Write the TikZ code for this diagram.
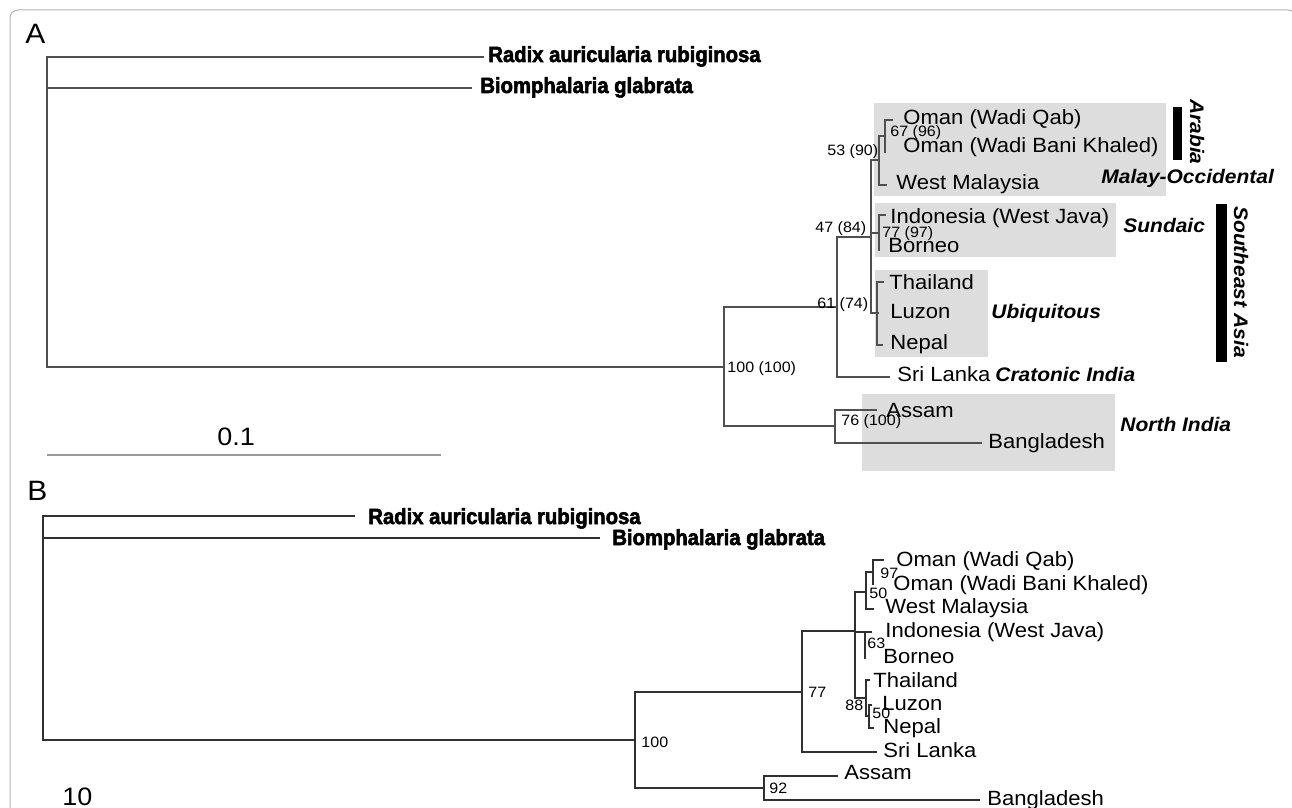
\documentclass[tikz,border=0pt]{standalone}
\usepackage{fontspec}
\setmainfont{Liberation Sans}[FakeStretch=1.07]
\newfontfamily\spfont{Liberation Sans}[FakeStretch=0.92,BoldFeatures={FakeBold=2.5}]
\usetikzlibrary{positioning}
\definecolor{cladebg}{HTML}{DDDDDD}
\definecolor{branchA}{HTML}{505050}
\definecolor{branchB}{HTML}{303030}

\begin{document}
\begin{tikzpicture}[x=0.5pt,y=-0.5pt,
            leaf/.style={anchor=base west,inner sep=0,font=\fontsize{10.3}{12}\selectfont},
            boot/.style={anchor=base west,inner sep=0,font=\fontsize{7.5}{8}\selectfont},
            taxon/.style={anchor=base west,inner sep=0,font=\fontsize{11}{12}\spfont\bfseries},
            region/.style={anchor=base west,inner sep=0,font=\fontsize{9.8}{11}\selectfont\bfseries\itshape},
            panel/.style={anchor=base west,inner sep=0,font=\fontsize{14}{16}\selectfont},
            scalelab/.style={anchor=base west,inner sep=0,font=\fontsize{12.6}{14}\selectfont},
            brA/.style={draw=branchA,line width=0.65pt},
            brB/.style={draw=branchB,line width=1pt},
            cladebox/.style={fill=cladebg,draw=none},
            regbar/.style={fill=black,draw=none}
          ]
          \useasboundingbox (0,0) rectangle (1292,808);
          \draw[gray!60,line width=0.5pt,rounded corners=4pt] (10,830) -- (10,10) -- (1296,10) -- (1296,830);

          %panel A
          \node[panel] (labA) at (25,44) {A};

          %shaded clades
          \fill[cladebox] (874,103) rectangle (1166,196);
          \fill[cladebox] (875,203) rectangle (1116,257);
          \fill[cladebox] (875,270) rectangle (988,357);
          \fill[cladebox] (862,394) rectangle (1115,471);

          %nodes and tips
          \coordinate (rA) at (47,212);
          \coordinate (tRadA) at (484,57);
          \coordinate (tBioA) at (472,88);
          \coordinate (n100A) at (724,367);
          \coordinate (n61A) at (837,307);
          \coordinate (n76A) at (835,426);
          \coordinate (n47A) at (871,237);
          \coordinate (tSriA) at (890,377);
          \coordinate (n53A) at (879,160);
          \coordinate (n77A) at (879,233);
          \coordinate (nUbA) at (877,313);
          \coordinate (n67A) at (885,136);
          \coordinate (tWMaA) at (887,185);
          \coordinate (tOQA) at (893,120);
          \coordinate (tOBA) at (886,152);
          \coordinate (tInA) at (886,215);
          \coordinate (tBoA) at (880,250);
          \coordinate (tThA) at (884,282);
          \coordinate (tLuA) at (879,313);
          \coordinate (tNeA) at (883,345);
          \coordinate (tAsA) at (877,410);
          \coordinate (tBaA) at (982,443);

          %branches
          \draw[brA] (rA) |- (tRadA);
          \draw[brA] (rA) |- (tBioA);
          \draw[brA] (rA) |- (n100A);
          \draw[brA] (n100A) |- (n61A);
          \draw[brA] (n100A) |- (n76A);
          \draw[brA] (n61A) |- (n47A);
          \draw[brA] (n61A) |- (tSriA);
          \draw[brA] (n47A) |- (n53A);
          \draw[brA] (n47A) |- (n77A);
          \draw[brA] (n47A) |- (nUbA);
          \draw[brA] (n53A) |- (n67A);
          \draw[brA] (n53A) |- (tWMaA);
          \draw[brA] (n67A) |- (tOQA);
          \draw[brA] (n67A) |- (tOBA);
          \draw[brA] (n77A) |- (tInA);
          \draw[brA] (n77A) |- (tBoA);
          \draw[brA] (nUbA) |- (tThA);
          \draw[brA] (nUbA) |- (tLuA);
          \draw[brA] (nUbA) |- (tNeA);
          \draw[brA] (n76A) |- (tAsA);
          \draw[brA] (n76A) |- (tBaA);

          %labels
          \node[taxon] (radA) at (488,62) {Radix auricularia rubiginosa};
          \node[taxon] (bioA) at (480,93) {Biomphalaria glabrata};
          \node[leaf] (omqA) at (903,125) {Oman (Wadi Qab)};
          \node[leaf] (ombA) at (903,153) {Oman (Wadi Bani Khaled)};
          \node[leaf] (wmaA) at (896,190) {West Malaysia};
          \node[leaf] (indA) at (890,224) {Indonesia (West Java)};
          \node[leaf] (borA) at (888,253) {Borneo};
          \node[leaf] (thaA) at (889,290) {Thailand};
          \node[leaf] (luzA) at (890,318) {Luzon};
          \node[leaf] (nepA) at (890,350) {Nepal};
          \node[leaf] (sriA) at (897,381) {Sri Lanka};
          \node[leaf] (assA) at (886,417) {Assam};
          \node[leaf] (banA) at (988,448) {Bangladesh};

          %support values
          \node[boot] (b67A) at (890,137) {67 (96)};
          \node[boot] (b53A) at (827,156) {53 (90)};
          \node[boot] (b47A) at (815,233) {47 (84)};
          \node[boot] (b77A) at (882,237) {77 (97)};
          \node[boot] (b61A) at (817,308) {61 (74)};
          \node[boot] (b100A) at (727,372) {100 (100)};
          \node[boot] (b76A) at (841,425) {76 (100)};

          %regions
          \node[region] (malA) at (1101,184) {Malay-Occidental};
          \node[region] (sunA) at (1123,233) {Sundaic};
          \node[region] (ubiA) at (991,318) {Ubiquitous};
          \node[region] (craA) at (995,381) {Cratonic India};
          \node[region] (norA) at (1120,431) {North India};
          \fill[regbar] (1173,107) rectangle (1182,160);
          \node[region,anchor=center,rotate=-90] (araA) at (1197,132) {Arabia};
          \fill[regbar] (1216,204) rectangle (1227,362);
          \node[region,anchor=center,rotate=-90] (seaA) at (1241,282) {Southeast Asia};

          %scale A
          \coordinate (sA0) at (47,455);
          \coordinate (sA1) at (441,455);
          \draw[gray!80,line width=0.6pt] (sA0) -- (sA1);
          \node[scalelab] (sAl) at (217,445) {0.1};

          %panel B
          \node[panel] (labB) at (27,500) {B};

          \coordinate (rB) at (43,628);
          \coordinate (tRadB) at (355,516);
          \coordinate (tBioB) at (600,538);
          \coordinate (n100B) at (635,740);
          \coordinate (n77B) at (802,692);
          \coordinate (n92B) at (764,788);
          \coordinate (nTopB) at (855,631);
          \coordinate (tSriB) at (877,752);
          \coordinate (n50uB) at (866,592);
          \coordinate (n63B) at (865,632);
          \coordinate (n88B) at (866,698);
          \coordinate (n97B) at (873,572);
          \coordinate (tOQB) at (884,560);
          \coordinate (tOBB) at (874,584);
          \coordinate (tWMB) at (874,609);
          \coordinate (tInB) at (872,632);
          \coordinate (tBoB) at (866,658);
          \coordinate (tThB) at (870,680);
          \coordinate (n50lB) at (869,716);
          \coordinate (tLuB) at (872,705);
          \coordinate (tNeB) at (874,728);
          \coordinate (tAsB) at (838,776);
          \coordinate (tBaB) at (980,800);

          \draw[brB] (rB) |- (tRadB);
          \draw[brB] (rB) |- (tBioB);
          \draw[brB] (rB) |- (n100B);
          \draw[brB] (n100B) |- (n77B);
          \draw[brB] (n100B) |- (n92B);
          \draw[brB] (n77B) |- (nTopB);
          \draw[brB] (n77B) |- (tSriB);
          \draw[brB] (nTopB) |- (n50uB);
          \draw[brB] (nTopB) |- (n63B);
          \draw[brB] (nTopB) |- (n88B);
          \draw[brB] (n50uB) |- (n97B);
          \draw[brB] (n50uB) |- (tWMB);
          \draw[brB] (n97B) |- (tOQB);
          \draw[brB] (n97B) |- (tOBB);
          \draw[brB] (n63B) |- (tInB);
          \draw[brB] (n63B) |- (tBoB);
          \draw[brB] (n88B) |- (tThB);
          \draw[brB] (n88B) |- (n50lB);
          \draw[brB] (n50lB) |- (tLuB);
          \draw[brB] (n50lB) |- (tNeB);
          \draw[brB] (n92B) |- (tAsB);
          \draw[brB] (n92B) |- (tBaB);

          %labels
          \node[taxon] (radB) at (368,524) {Radix auricularia rubiginosa};
          \node[taxon] (bioB) at (612,545) {Biomphalaria glabrata};
          \node[leaf] (omqB) at (896,566) {Oman (Wadi Qab)};
          \node[leaf] (ombB) at (893,590) {Oman (Wadi Bani Khaled)};
          \node[leaf] (wmaB) at (885,613) {West Malaysia};
          \node[leaf] (indB) at (885,637) {Indonesia (West Java)};
          \node[leaf] (borB) at (883,663) {Borneo};
          \node[leaf] (thaB) at (873,687) {Thailand};
          \node[leaf] (luzB) at (882,710) {Luzon};
          \node[leaf] (nepB) at (883,733) {Nepal};
          \node[leaf] (sriB) at (883,757) {Sri Lanka};
          \node[leaf] (assB) at (844,779) {Assam};
          \node[leaf] (banB) at (987,805) {Bangladesh};

          %support values
          \node[boot] (b97B) at (880,578) {97};
          \node[boot] (b50uB) at (869,598) {50};
          \node[boot] (b63B) at (867,648) {63};
          \node[boot] (b88B) at (845,710) {88};
          \node[boot] (b50lB) at (872,718) {50};
          \node[boot] (b77B) at (808,697) {77};
          \node[boot] (b100B) at (641,747) {100};
          \node[boot] (b92B) at (769,793) {92};

          %scale B
          \node[scalelab] (sBl) at (62,805) {10};
      \end{tikzpicture}
\end{document}
